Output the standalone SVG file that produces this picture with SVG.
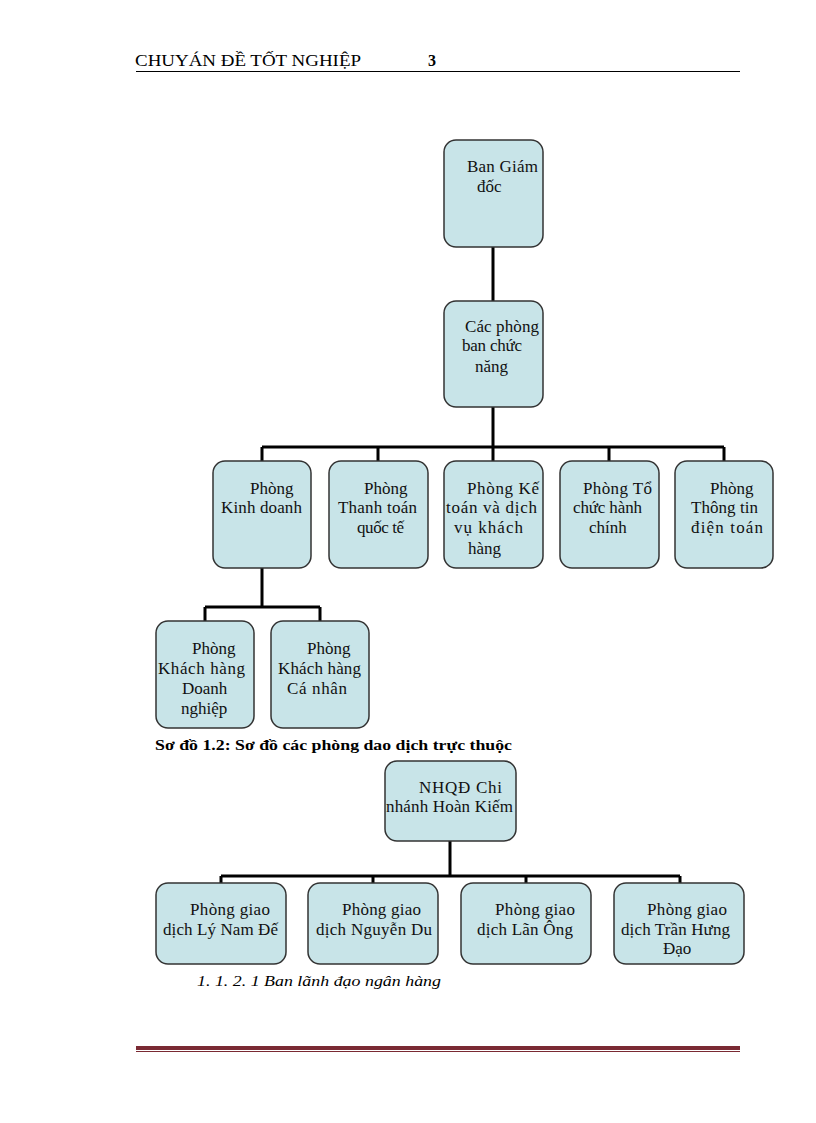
<svg xmlns="http://www.w3.org/2000/svg" width="816" height="1123" viewBox="0 0 816 1123">
<style>
.box{fill:#c8e4e8;stroke:#333;stroke-width:1.5}
.t{font-family:"Liberation Serif","Times New Roman",serif;font-size:17px;fill:#111}
.con{fill:none;stroke:#000;stroke-width:3}
</style>
<rect width="816" height="1123" fill="#fff"/>
<g id="header">
<text x="135" y="66" font-family="Liberation Serif,serif" font-size="16" textLength="226" lengthAdjust="spacingAndGlyphs">CHUYÁN ĐỀ TỐT NGHIỆP</text>
<text x="428" y="66" font-family="Liberation Serif,serif" font-size="16" font-weight="bold">3</text>
<line x1="136" y1="71.5" x2="740" y2="71.5" stroke="#000" stroke-width="1"/>
</g>
<g id="connectors">
<path class="con" d="M493 247V301M493 407V447M262 447H724M262 447V461M378 447V461M493 447V461M609 447V461M724 447V461"/>
<path class="con" d="M262 568V607M205 607H320M205 607V621M320 607V621"/>
<path class="con" d="M450 841V876M221 876H680M221 876V883M373 876V883M526 876V883M680 876V883"/>
</g>
<g id="n_bgd"><rect class="box" x="444" y="140" width="99" height="107" rx="12"/>
<text class="t"><tspan x="467" y="172" textLength="71">Ban Giám</tspan><tspan x="477" y="192">đốc</tspan></text></g>
<g id="n_cpb"><rect class="box" x="444" y="301" width="99" height="106" rx="12"/>
<text class="t"><tspan x="465" y="332" textLength="74">Các phòng</tspan><tspan x="462" y="351" textLength="60">ban chức</tspan><tspan x="475" y="372">năng</tspan></text></g>
<g id="n_kd"><rect class="box" x="213" y="461" width="98" height="107" rx="12"/>
<text class="t"><tspan x="250" y="494">Phòng</tspan><tspan x="221" y="513" textLength="81">Kinh doanh</tspan></text></g>
<g id="n_tt"><rect class="box" x="329" y="461" width="99" height="107" rx="12"/>
<text class="t"><tspan x="364" y="494">Phòng</tspan><tspan x="338" y="513" textLength="79">Thanh toán</tspan><tspan x="357" y="533" textLength="47">quốc tế</tspan></text></g>
<g id="n_kt"><rect class="box" x="444" y="461" width="99" height="107" rx="12"/>
<text class="t"><tspan x="467" y="494" textLength="72">Phòng Kế</tspan><tspan x="446" y="513" textLength="91">toán và dịch</tspan><tspan x="454" y="533" textLength="69">vụ khách</tspan><tspan x="468" y="554">hàng</tspan></text></g>
<g id="n_tc"><rect class="box" x="560" y="461" width="99" height="107" rx="12"/>
<text class="t"><tspan x="583" y="494" textLength="69">Phòng Tổ</tspan><tspan x="573" y="513" textLength="69">chức hành</tspan><tspan x="589" y="533">chính</tspan></text></g>
<g id="n_tin"><rect class="box" x="675" y="461" width="98" height="107" rx="12"/>
<text class="t"><tspan x="710" y="494">Phòng</tspan><tspan x="691" y="513" textLength="67">Thông tin</tspan><tspan x="691" y="533" textLength="72">điện toán</tspan></text></g>
<g id="n_dn"><rect class="box" x="156" y="621" width="98" height="107" rx="12"/>
<text class="t"><tspan x="192" y="654">Phòng</tspan><tspan x="158" y="674" textLength="87">Khách hàng</tspan><tspan x="182" y="694">Doanh</tspan><tspan x="181" y="714">nghiệp</tspan></text></g>
<g id="n_cn"><rect class="box" x="271" y="621" width="98" height="107" rx="12"/>
<text class="t"><tspan x="307" y="654">Phòng</tspan><tspan x="278" y="674" textLength="83">Khách hàng</tspan><tspan x="287" y="694" textLength="60">Cá nhân</tspan></text></g>
<g id="caption1"><text x="155" y="750" font-family="Liberation Serif,serif" font-size="15" font-weight="bold" textLength="357" lengthAdjust="spacingAndGlyphs">Sơ đồ 1.2: Sơ đồ các phòng dao dịch trực thuộc</text></g>
<g id="n_nhqd"><rect class="box" x="385" y="761" width="131" height="80" rx="12"/>
<text class="t"><tspan x="419" y="793" textLength="83">NHQĐ Chi</tspan><tspan x="386" y="812" textLength="127">nhánh Hoàn Kiếm</tspan></text></g>
<g id="n_lnd"><rect class="box" x="156" y="883" width="130" height="81" rx="12"/>
<text class="t"><tspan x="190" y="915" textLength="80">Phòng giao</tspan><tspan x="163" y="935" textLength="115">dịch Lý Nam Đế</tspan></text></g>
<g id="n_nd"><rect class="box" x="308" y="883" width="130" height="81" rx="12"/>
<text class="t"><tspan x="342" y="915" textLength="79">Phòng giao</tspan><tspan x="316" y="935" textLength="116">dịch Nguyễn Du</tspan></text></g>
<g id="n_lo"><rect class="box" x="461" y="883" width="130" height="81" rx="12"/>
<text class="t"><tspan x="495" y="915" textLength="80">Phòng giao</tspan><tspan x="477" y="935" textLength="96">dịch Lãn Ông</tspan></text></g>
<g id="n_thd"><rect class="box" x="614" y="883" width="130" height="81" rx="12"/>
<text class="t"><tspan x="647" y="915" textLength="80">Phòng giao</tspan><tspan x="621" y="935" textLength="109">dịch Trần Hưng</tspan><tspan x="663" y="954">Đạo</tspan></text></g>
<g id="caption2"><text x="197" y="986" font-family="Liberation Serif,serif" font-size="15" font-style="italic" textLength="244" lengthAdjust="spacingAndGlyphs">1. 1. 2. 1 Ban lãnh đạo ngân hàng</text></g>
<g id="footer">
<rect x="136" y="1046" width="604" height="4" fill="#7a2a33"/>
<line x1="136" y1="1051.5" x2="740" y2="1051.5" stroke="#7a2a33" stroke-width="1"/>
</g>
</svg>
